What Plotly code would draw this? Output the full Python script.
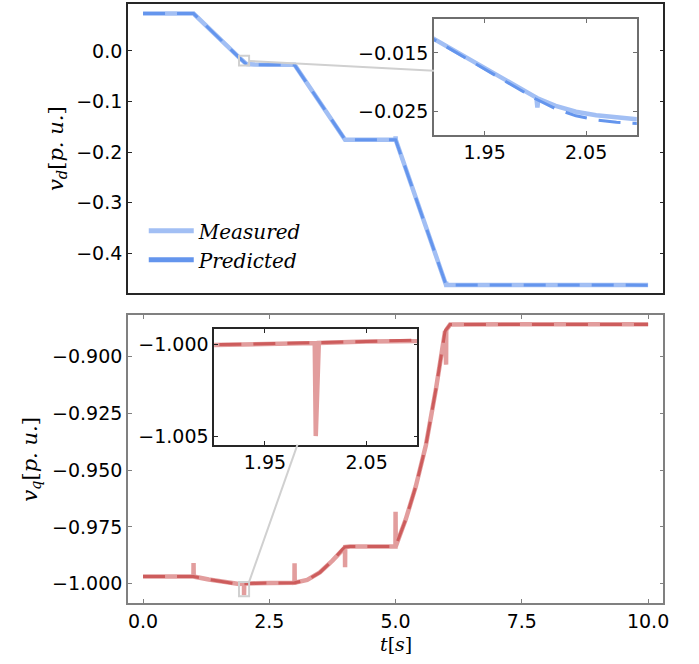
import plotly.graph_objects as go

W, H = 699, 664

# ---------------- data ----------------
# v_d (top panel)
t_vd_meas = [0.0, 1.0, 1.9, 1.95, 2.0, 2.001, 2.002, 2.003, 2.02, 2.04, 2.06, 2.08, 2.1, 2.2, 2.5,
             3.0, 4.0, 4.998, 5.0, 5.003, 6.0, 6.002, 6.005, 10.0]
vd_meas = [0.074, 0.074, -0.0126, -0.0176, -0.0225, -0.0226, -0.0243, -0.0228, -0.0240, -0.0250,
           -0.0256, -0.0260, -0.0263, -0.0267, -0.0270, -0.0272, -0.1755, -0.1755, -0.1690, -0.1755,
           -0.4628, -0.4560, -0.4628, -0.4630]
t_vd_pred = [0.0, 1.0, 1.9, 1.95, 2.0, 2.02, 2.04, 2.06, 2.08, 2.1, 2.2, 2.5, 3.0, 4.0, 5.0, 6.0, 10.0]
vd_pred = [0.074, 0.074, -0.0127, -0.0178, -0.0228, -0.0245, -0.0257, -0.0264, -0.0268, -0.0270,
           -0.0273, -0.0275, -0.0275, -0.1755, -0.1755, -0.4628, -0.4632]

# v_q (bottom panel)
t_vq_meas = [0.0, 0.998, 1.0, 1.003, 1.3, 1.6, 1.8, 1.9, 1.95, 1.999, 2.0, 2.003, 2.05, 2.1, 2.5,
             2.998, 3.0, 3.003, 3.25, 3.5, 3.75, 3.95, 3.998, 4.0, 4.003, 4.1, 4.998, 5.0, 5.003,
             5.2, 5.4, 5.6, 5.8, 5.98, 6.0, 6.003, 6.08, 10.0]
vq_meas = [-0.9968, -0.9968, -0.9909, -0.9968, -0.9981, -0.9993, -0.99985, -1.00002, -0.99996,
           -0.99991, -1.0050, -0.99990, -0.99982, -0.99974, -0.99960, -0.99950, -0.9910, -0.99950,
           -0.9983, -0.9950, -0.9898, -0.9848, -0.9840, -0.9927, -0.9838, -0.9836, -0.9836,
           -0.9683, -0.9836, -0.9718, -0.9572, -0.9391, -0.9143, -0.8890, -0.9037, -0.8885,
           -0.8860, -0.8859]
t_vq_pred = [0.0, 1.0, 1.3, 1.6, 1.8, 1.9, 1.95, 2.0, 2.05, 2.1, 2.5, 3.0, 3.25, 3.5, 3.75, 3.95,
             4.0, 4.1, 5.0, 5.2, 5.4, 5.6, 5.8, 5.98, 6.08, 10.0]
vq_pred = [-0.9968, -0.9968, -0.9981, -0.9993, -0.99985, -1.00000, -0.99995, -0.99990, -0.99982,
           -0.99975, -0.99962, -0.99952, -0.9983, -0.9950, -0.9898, -0.9848, -0.9838, -0.9836,
           -0.9836, -0.9718, -0.9572, -0.9391, -0.9143, -0.8890, -0.8860, -0.8860]

x_ticks_main = [0.0, 2.5, 5.0, 7.5, 10.0]
vd_ticks = [0.0, -0.1, -0.2, -0.3, -0.4]
vq_ticks = [-0.900, -0.925, -0.950, -0.975, -1.000]
inset_x_ticks = [1.95, 2.05]
vd_inset_ticks = [-0.015, -0.025]
vq_inset_ticks = [-1.000, -1.005]

series_names = ["Measured", "Predicted"]

# ---------------- style ----------------
BLUE_M = "#a2bff4"
BLUE_P = "#6495ed"
RED_M = "#e29d9d"
RED_P = "#cd5c5c"
GREY = "#d0d0d0"

x_rng = [-0.3, 10.3]
vd_rng = [-0.479, 0.093]
vq_rng = [-1.0085, -0.8819]
in_x_rng = [1.9, 2.1]
vd_in_rng = [-0.0289, -0.0092]
vq_in_rng = [-1.00547, -0.99914]

def px_x(p):
    return p / W

def px_y(p):
    return 1 - p / H

dom_main_x = [px_x(129), px_x(669)]
dom_top_y = [px_y(294), px_y(4)]
dom_bot_y = [px_y(605), px_y(316)]
dom_in1_x = [px_x(437.7), px_x(642.3)]
dom_in1_y = [px_y(135), px_y(19)]
dom_in2_x = [px_x(216), px_x(421)]
dom_in2_y = [px_y(446), px_y(330)]

DASH = "22px,12px"
WM, WP = 4.5, 3

fig = go.Figure()

def add_pair(tm, vm, tp, vp, cm, cp, xa, ya):
    fig.add_trace(go.Scatter(x=tm, y=vm, mode="lines", line=dict(color=cm, width=WM),
                             showlegend=False, xaxis=xa, yaxis=ya, hoverinfo="skip"))
    fig.add_trace(go.Scatter(x=tp, y=vp, mode="lines", line=dict(color=cp, width=WP, dash=DASH),
                             showlegend=False, xaxis=xa, yaxis=ya, hoverinfo="skip"))

add_pair(t_vd_meas, vd_meas, t_vd_pred, vd_pred, BLUE_M, BLUE_P, "x", "y")
add_pair(t_vq_meas, vq_meas, t_vq_pred, vq_pred, RED_M, RED_P, "x2", "y2")
add_pair(t_vd_meas, vd_meas, t_vd_pred, vd_pred, BLUE_M, BLUE_P, "x3", "y3")
add_pair(t_vq_meas, vq_meas, t_vq_pred, vq_pred, RED_M, RED_P, "x4", "y4")

# legend entries (solid handles, as in reference)
for nm, c in zip(series_names, [BLUE_M, BLUE_P]):
    fig.add_trace(go.Scatter(x=[None], y=[None], mode="lines", name=f"<i>{nm}</i>",
                             line=dict(color=c, width=5), xaxis="x", yaxis="y"))

TICKFONT = dict(family="DejaVu Sans", size=19, color="#000000")

def ax(domain, rng, color, ticks=True, tickvals=None, fmt=None, showlabels=True, anchor=None, lw=1.5):
    d = dict(domain=domain, range=rng, showgrid=False, zeroline=False, showline=True,
             linecolor=color, linewidth=lw, mirror="ticks" if ticks else True,
             ticks="inside" if ticks else "", ticklen=4, tickwidth=1, tickcolor=color,
             tickfont=TICKFONT, showticklabels=showlabels, anchor=anchor, fixedrange=True)
    if tickvals is not None:
        d["tickvals"] = tickvals
        d["tickmode"] = "array"
    if fmt:
        d["tickformat"] = fmt
    return d

DARK = "#262626"
MID = "#808080"

SERIF = "DejaVu Serif"

fig.update_layout(
    width=W, height=H,
    margin=dict(l=0, r=0, t=0, b=0),
    paper_bgcolor="white", plot_bgcolor="white",
    font=dict(family="DejaVu Sans", size=19, color="#000000"),
    xaxis=ax(dom_main_x, x_rng, DARK, ticks=False, showlabels=False, anchor="y"),
    yaxis=ax(dom_top_y, vd_rng, DARK, tickvals=vd_ticks, fmt=".1f", anchor="x"),
    xaxis2=ax(dom_main_x, x_rng, MID, tickvals=x_ticks_main, fmt=".1f", anchor="y2"),
    yaxis2=ax(dom_bot_y, vq_rng, MID, tickvals=vq_ticks, fmt=".3f", anchor="x2"),
    xaxis3=ax(dom_in1_x, in_x_rng, "#6e6e6e", tickvals=inset_x_ticks, fmt=".2f", anchor="y3"),
    yaxis3=ax(dom_in1_y, vd_in_rng, "#6e6e6e", tickvals=vd_inset_ticks, fmt=".3f", anchor="x3"),
    xaxis4=ax(dom_in2_x, in_x_rng, DARK, tickvals=inset_x_ticks, fmt=".2f", anchor="y4"),
    yaxis4=ax(dom_in2_y, vq_in_rng, DARK, tickvals=vq_inset_ticks, fmt=".3f", anchor="x4"),
    legend=dict(x=px_x(145), y=px_y(212), xanchor="left", yanchor="top",
                bgcolor="rgba(0,0,0,0)", borderwidth=0, tracegroupgap=0, itemwidth=45,
                font=dict(family=SERIF, size=20, color="#000000")),
    showlegend=True,
)

# zoom rectangles
for xr, yr in (("x", "y"), ("x2", "y2")):
    rng = vd_in_rng if yr == "y" else vq_in_rng
    fig.add_shape(type="rect", xref=xr, yref=yr, x0=in_x_rng[0], x1=in_x_rng[1],
                  y0=rng[0], y1=rng[1], line=dict(color=GREY, width=2), layer="above")

def data_to_paper(val, rng, dom):
    return dom[0] + (val - rng[0]) / (rng[1] - rng[0]) * (dom[1] - dom[0])

# connector lines (paper coords)
x0 = data_to_paper(in_x_rng[1], x_rng, dom_main_x)
y0 = data_to_paper(-0.0197, vd_rng, dom_top_y)
x1 = dom_in1_x[0]
y1 = dom_in1_y[0] + 0.552 * (dom_in1_y[1] - dom_in1_y[0])
fig.add_shape(type="line", xref="paper", yref="paper", x0=x0, y0=y0, x1=x1, y1=y1,
              line=dict(color=GREY, width=2), layer="above")
x0 = data_to_paper(in_x_rng[1], x_rng, dom_main_x)
y0 = data_to_paper(vq_in_rng[1], vq_rng, dom_bot_y)
x1 = dom_in2_x[0] + 0.41 * (dom_in2_x[1] - dom_in2_x[0])
y1 = dom_in2_y[0]
fig.add_shape(type="line", xref="paper", yref="paper", x0=x0, y0=y0, x1=x1, y1=y1,
              line=dict(color=GREY, width=2), layer="above")

TITLEFONT = dict(family=SERIF, size=21, color="#000000")
fig.add_annotation(text="<i>v</i><sub><i>d</i></sub>[<i>p. u.</i>]", textangle=-90,
                   x=px_x(57), y=(dom_top_y[0] + dom_top_y[1]) / 2, xref="paper", yref="paper",
                   showarrow=False, font=TITLEFONT, xanchor="center", yanchor="middle")
fig.add_annotation(text="<i>v</i><sub><i>q</i></sub>[<i>p. u.</i>]", textangle=-90,
                   x=px_x(31), y=(dom_bot_y[0] + dom_bot_y[1]) / 2, xref="paper", yref="paper",
                   showarrow=False, font=TITLEFONT, xanchor="center", yanchor="middle")
fig.add_annotation(text="<i>t</i>[<i>s</i>]", x=(dom_main_x[0] + dom_main_x[1]) / 2, y=px_y(646),
                   xref="paper", yref="paper", showarrow=False,
                   font=dict(family=SERIF, size=19, color="#000000"),
                   xanchor="center", yanchor="middle")

fig.write_html("out.html")
